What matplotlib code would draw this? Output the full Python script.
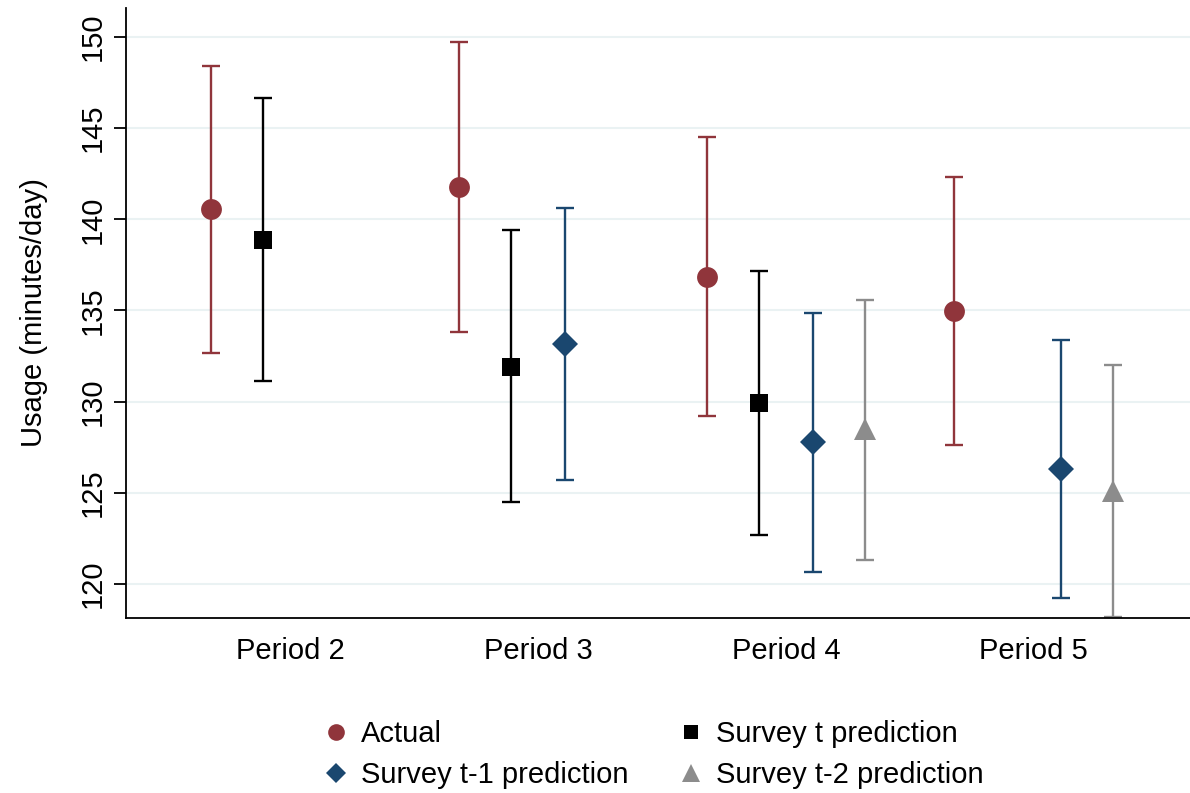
import matplotlib
matplotlib.use('Agg')
import matplotlib.pyplot as plt
import numpy as np

plt.rcParams['font.family'] = ['Liberation Sans', 'DejaVu Sans']

# Data (minutes/day)
periods = ["Period 2", "Period 3", "Period 4", "Period 5"]
period_pos = [2, 3, 4, 5]

actual_est = [140.55, 141.8, 136.85, 134.95]
actual_lo = [132.65, 133.8, 129.2, 127.6]
actual_hi = [148.4, 149.75, 144.5, 142.35]

surv_t_est = [138.85, 131.9, 129.95]
surv_t_lo = [131.15, 124.5, 122.7]
surv_t_hi = [146.65, 139.4, 137.15]
surv_t_pos = [2, 3, 4]

surv_t1_est = [133.15, 127.8, 126.3]
surv_t1_lo = [125.7, 120.65, 119.25]
surv_t1_hi = [140.6, 134.85, 133.4]
surv_t1_pos = [3, 4, 5]

surv_t2_est = [128.5, 125.1]
surv_t2_lo = [121.3, 118.2]
surv_t2_hi = [135.55, 132.0]
surv_t2_pos = [4, 5]

series = [
    ("Actual", period_pos, actual_est, actual_lo, actual_hi, -0.32, "#90353B", "o", 15),
    ("Survey t prediction", surv_t_pos, surv_t_est, surv_t_lo, surv_t_hi, -0.108, "black", "s", 13),
    ("Survey t-1 prediction", surv_t1_pos, surv_t1_est, surv_t1_lo, surv_t1_hi, 0.108, "#1A476F", "D", 13),
    ("Survey t-2 prediction", surv_t2_pos, surv_t2_est, surv_t2_lo, surv_t2_hi, 0.32, "#8C8C8C", "^", 16),
]

fig = plt.figure(figsize=(11.9, 7.93), dpi=100)
ax = fig.add_axes([0.106, 0.2207, 0.894, 0.7693])

handles = []
for label, pos, est, lo, hi, off, col, mk, ms in series:
    x = np.array(pos) + off
    est = np.array(est)
    yerr = [est - np.array(lo), np.array(hi) - est]
    ax.errorbar(x, est, yerr=yerr, fmt='none', ecolor=col, elinewidth=1.7,
                capsize=6.5, capthick=1.7, zorder=2)
    ax.plot(x, est, linestyle='none', marker=mk, color=col, markersize=ms,
            markeredgewidth=0, zorder=3)
    handles.append(plt.Line2D([], [], linestyle='none', marker=mk, color=col,
                              markersize=ms * 0.8, markeredgewidth=0, label=label))

ax.set_xlim(1.339, 5.63)
ax.set_ylim(118.13, 151.6)
ax.set_yticks([120, 125, 130, 135, 140, 145, 150])
ax.set_xticks(period_pos)
ax.set_xticklabels(periods)
ax.yaxis.grid(True, color="#EAF2F3", linewidth=1.5)
ax.set_axisbelow(True)

for s in ["top", "right"]:
    ax.spines[s].set_visible(False)
for s in ["left", "bottom"]:
    ax.spines[s].set_linewidth(1.3)

ax.tick_params(axis='x', length=0, labelsize=21, pad=14)
ax.tick_params(axis='y', length=9, width=1.3, labelsize=21, pad=5)
for t in ax.get_yticklabels():
    t.set_rotation(90)
    t.set_va('center')
ax.set_ylabel("Usage (minutes/day)", fontsize=21, labelpad=22)

# legend order: row1 Actual / Survey t, row2 Survey t-1 / Survey t-2
order = [handles[0], handles[2], handles[1], handles[3]]
fig.legend(handles=order, ncol=2, loc='center', bbox_to_anchor=(0.545, 0.048),
           frameon=False, fontsize=21, handletextpad=0.1, columnspacing=1.4,
           labelspacing=0.45, handlelength=1.5)

plt.savefig("out.png", dpi=100)
